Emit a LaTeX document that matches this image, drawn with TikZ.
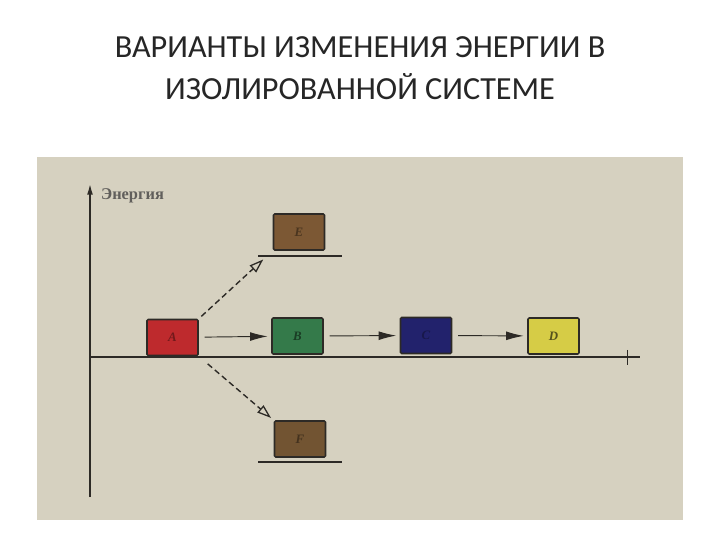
\documentclass[tikz,border=0pt]{standalone}
\usepackage{fontspec}
\setmainfont{Liberation Serif}
\newfontfamily\titlefont{Carlito}
\usetikzlibrary{arrows.meta,positioning}

\definecolor{paper}{RGB}{214,209,192}
\definecolor{ink}{RGB}{45,42,38}
\definecolor{boxA}{RGB}{190,42,45}
\definecolor{boxB}{RGB}{52,122,74}
\definecolor{boxC}{RGB}{34,34,108}
\definecolor{boxD}{RGB}{214,204,70}
\definecolor{boxE}{RGB}{124,88,52}
\definecolor{boxF}{RGB}{114,84,50}

\tikzset{
  level/.style = {draw=ink, line width=1.3pt, rounded corners=1pt,
    minimum width=1.53cm, minimum height=1.08cm, inner sep=0pt,
    font=\bfseries\itshape\fontsize{11}{11}\selectfont},
  shelf/.style = {draw=ink, line width=1.5pt},
  go/.style = {draw=ink, line width=0.8pt, -{Latex[length=15pt,width=7.5pt]}},
  maybe/.style = {draw=ink, line width=1.2pt, dash pattern=on 5pt off 3pt,
    -{Triangle[open,length=12pt,width=8pt,line width=1.1pt]}}
}

\begin{document}
\begin{tikzpicture}
  [x = .03cm, y = -.03cm]
  \useasboundingbox (0,0) rectangle (720,540);
  \fill[white] (0,0) rectangle (720,540);

  % heading
  \node[font=\titlefont\fontsize{27.5}{36}\selectfont, align=center, text=black!85]
    (title) at (360,68) {ВАРИАНТЫ ИЗМЕНЕНИЯ ЭНЕРГИИ В\\ИЗОЛИРОВАННОЙ СИСТЕМЕ};

  % the scanned page
  \fill[paper] (37,157) rectangle (683,520);

  % axes
  \draw[ink, line width=1.2pt, -{Latex[length=9pt,width=5pt]}] (90,497) -- (90,184);
  \node[anchor=west, text=ink!75, font=\bfseries\fontsize{14}{14}\selectfont]
    (energy) at (97,196) {Энергия};
  \draw[ink, line width=1.1pt] (90,357) -- (640,357);
  \draw[ink, line width=0.7pt] (627,350) -- (627,365);

  % levels
  \node[level, fill=boxA, text=boxA!60!black] (A) at (172.5,337.5) {A};
  \node[level, fill=boxB, text=boxB!50!black] (B) at (297.5,336) {B};
  \node[level, fill=boxC, text=boxC!70!black] (C) at (426,335.5) {C};
  \node[level, fill=boxD, text=boxD!40!black] (D) at (553.5,336) {D};
  \node[level, fill=boxE, text=boxE!60!black] (E) at (299,232) {E};
  \node[level, fill=boxF, text=boxF!60!black] (F) at (300,439) {F};

  % shelves under the boxes
  \foreach \x in {172, 300, 426, 556}{
    \draw[shelf] (\x-42,357) -- (\x+42,357);
  }
  \draw[shelf] (258,256) -- (342,256);
  \draw[shelf] (258,462) -- (342,462);

  % transitions
  \draw[go, shorten <=5pt, shorten >=3pt] (A) -- (B);
  \draw[go, shorten <=5pt, shorten >=3pt] (B) -- (C);
  \draw[go, shorten <=5pt, shorten >=3pt] (C) -- (D);
  \draw[maybe, shorten <=3pt, shorten >=11pt] (A.north east) -- (E.south west);
  \draw[maybe, shorten <=10pt, shorten >=3pt] (A.south east) -- (F.north west);
\end{tikzpicture}
\end{document}
